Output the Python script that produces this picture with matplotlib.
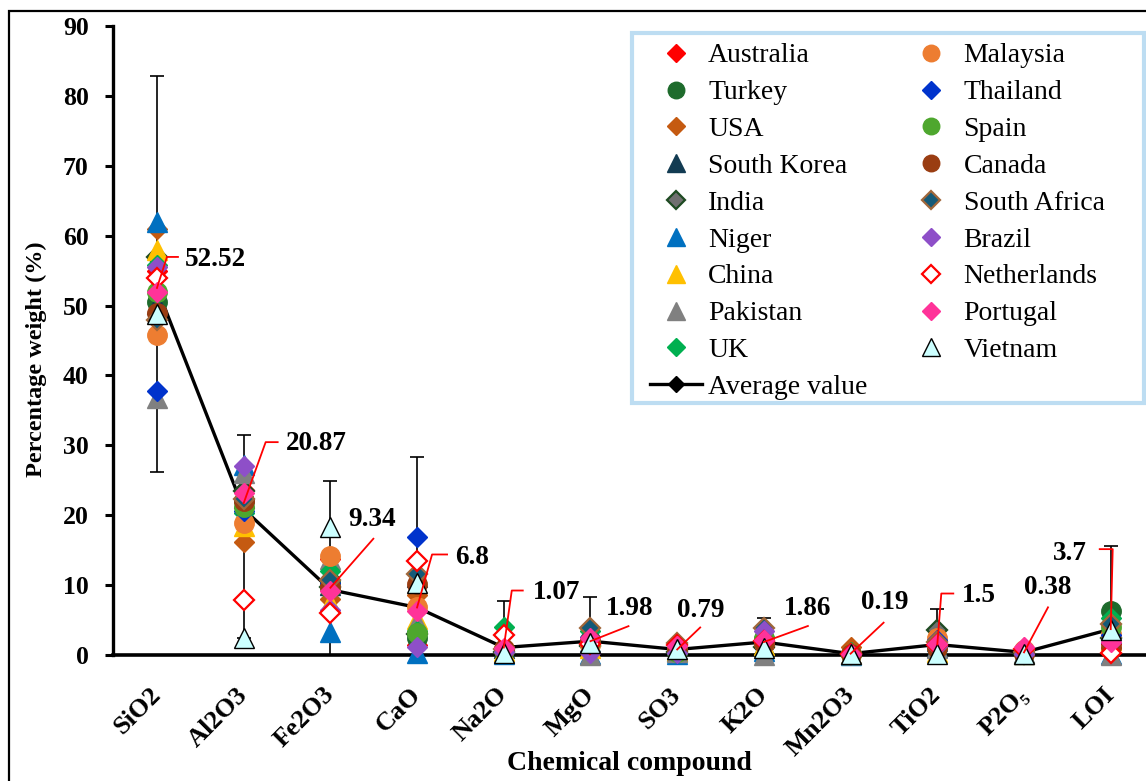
import numpy as np
import matplotlib
matplotlib.use("Agg")
import matplotlib.pyplot as plt
from matplotlib.lines import Line2D
from matplotlib.patches import Rectangle

plt.rcParams['font.family'] = ['Liberation Serif', 'DejaVu Serif']

compounds = ["SiO2", "Al2O3", "Fe2O3", "CaO", "Na2O", "MgO", "SO3", "K2O",
             "Mn2O3", "TiO2", "P2O\u2085", "LOI"]

# mean of all countries, with the spread drawn as error bars
average = [52.52, 20.87, 9.34, 6.8, 1.07, 1.98, 0.79, 1.86, 0.19, 1.5, 0.38, 3.7]
err_upper = [30.3, 10.6, 15.6, 21.5, 6.6, 6.3, 0.9, 3.4, 0.3, 5.1, 0.5, 11.9]
err_lower = [26.3, 18.4, 15.6, 21.5, 6.6, 6.3, 0.9, 3.4, 0.3, 5.1, 0.5, 11.9]

#           SiO2  Al2O3 Fe2O3 CaO   Na2O MgO  SO3  K2O  Mn2O3 TiO2 P2O5 LOI
australia = [55.0, 23.6, 13.7, 1.5, 0.9, 1.4, 1.4, 1.2, 0.1, 1.3, 1.0, 1.6]
turkey = [50.5, 22.0, 10.5, 2.4, 0.6, 2.1, 0.5, 1.6, 0.1, 1.0, 0.3, 6.3]
usa = [61.0, 16.1, 8.0, 8.6, 1.2, 2.5, 1.2, 2.2, 1.2, 0.9, 0.2, 1.0]
south_korea = [50.2, 22.5, 10.0, 11.2, 1.0, 1.8, 0.6, 1.4, 0.1, 1.2, 0.3, 3.2]
india = [57.0, 23.5, 9.8, 3.0, 0.5, 1.3, 0.4, 1.1, 0.1, 3.6, 0.2, 2.5]
niger = [62.0, 27.2, 3.3, 0.3, 0.2, 0.2, 0.1, 0.6, 0.0, 2.0, 0.1, 0.2]
china = [58.0, 18.5, 7.5, 5.2, 0.6, 1.0, 0.6, 1.5, 0.1, 0.4, 0.2, 2.1]
pakistan = [36.8, 26.0, 13.8, 4.7, 2.1, 0.0, 0.5, 0.0, 0.1, 1.0, 0.2, 0.0]
uk = [55.8, 20.3, 12.0, 3.5, 4.0, 3.5, 0.9, 2.6, 0.5, 1.3, 0.6, 5.3]
malaysia = [45.8, 18.9, 14.2, 6.8, 0.8, 1.5, 0.8, 1.7, 0.2, 2.4, 0.7, 3.0]
thailand = [37.8, 20.6, 10.3, 16.9, 1.0, 2.6, 0.3, 1.9, 0.1, 2.2, 0.2, 2.8]
spain = [52.0, 21.2, 9.6, 3.2, 0.7, 1.9, 0.5, 2.5, 0.1, 1.1, 0.3, 4.0]
canada = [49.0, 22.0, 9.8, 10.2, 0.9, 2.0, 0.9, 1.7, 0.1, 1.0, 0.2, 1.2]
south_africa = [48.0, 22.3, 10.8, 11.6, 0.8, 3.8, 1.7, 3.9, 0.1, 1.8, 0.4, 4.4]
brazil = [55.5, 27.0, 6.4, 1.1, 0.5, 0.3, 0.3, 3.4, 0.1, 1.3, 0.2, 1.8]
netherlands = [54.0, 7.8, 6.0, 13.4, 2.9, 1.6, 1.5, 2.0, 0.1, 1.4, 0.8, 0.3]
portugal = [52.0, 23.2, 9.1, 6.3, 1.0, 2.4, 1.3, 2.1, 0.2, 1.6, 1.2, 1.9]
vietnam = [48.8, 2.5, 18.3, 10.3, 0.3, 1.7, 0.8, 1.0, 0.2, 0.2, 0.2, 3.6]

countries = ["Australia", "Turkey", "USA", "South Korea", "India", "Niger", "China",
             "Pakistan", "UK", "Malaysia", "Thailand", "Spain", "Canada",
             "South Africa", "Brazil", "Netherlands", "Portugal", "Vietnam"]
values = [australia, turkey, usa, south_korea, india, niger, china, pakistan, uk,
          malaysia, thailand, spain, canada, south_africa, brazil, netherlands,
          portugal, vietnam]

# marker, face colour, edge colour
styles = [
    ("D", "#FF0000", "#FF0000"),
    ("o", "#1E6B2C", "#1E6B2C"),
    ("D", "#C55A11", "#C55A11"),
    ("^", "#123B52", "#123B52"),
    ("D", "#707070", "#1E4A22"),
    ("^", "#0070C0", "#0070C0"),
    ("^", "#FFC000", "#FFC000"),
    ("^", "#808080", "#808080"),
    ("D", "#00B050", "#00B050"),
    ("o", "#ED7D31", "#ED7D31"),
    ("D", "#0033CC", "#0033CC"),
    ("o", "#4EA72E", "#4EA72E"),
    ("o", "#9A3D12", "#9A3D12"),
    ("D", "#145A78", "#A0673A"),
    ("D", "#8E4FC8", "#8E4FC8"),
    ("D", "white", "#FF0000"),
    ("D", "#FF3399", "#FF3399"),
    ("^", "#CCFFFF", "#000000"),
]
sizes = {"D": 10.5, "o": 14.0, "^": 14.5}
outlined = ("white", "#707070", "#145A78")

fig = plt.figure(figsize=(11.46, 7.81), dpi=100)
ax = fig.add_axes([113 / 1146, 126 / 781, 1033 / 1146, 629 / 781])

x = np.arange(len(compounds))

ax.plot(x, average, color="black", lw=2.4, marker="D", ms=7, zorder=2)
ax.errorbar(x, average, yerr=[err_lower, err_upper], fmt="none", ecolor="black",
            elinewidth=1.2, capsize=5, capthick=1.2, zorder=2)

for i, (name, vals) in enumerate(zip(countries, values)):
    m, fc, ec = styles[i]
    ax.plot(x, vals, ls="none", marker=m, ms=sizes[m], mfc=fc, mec=ec,
            mew=1.6 if fc in outlined else 1.0, zorder=3 + i, clip_on=False)

ax.set_xlim(-0.507, 11.407)
ax.set_ylim(0, 90)
ax.set_yticks(np.arange(0, 91, 10))
ax.set_xticks(x)
ax.set_xticklabels(compounds, rotation=45, ha="right", va="center",
                   rotation_mode="anchor", fontsize=19, fontweight="bold")
ax.tick_params(axis="x", length=0, pad=26)
ax.tick_params(axis="y", direction="out", length=6, width=2.2, labelsize=18.5, pad=11.5)
for lab in ax.get_yticklabels():
    lab.set_fontweight("bold")

for s in ("top", "right"):
    ax.spines[s].set_visible(False)
ax.spines["left"].set_linewidth(2.4)
ax.spines["bottom"].set_linewidth(2.6)

ax.set_xlabel("Chemical compound", fontsize=20, fontweight="bold", labelpad=0)
ax.xaxis.set_label_coords(0.5, -0.153)
ax.set_ylabel("Percentage weight (%)", fontsize=17.5, fontweight="bold")
ax.yaxis.set_label_coords(-0.064, 0.47)

# data labels for the average, with red leader lines (offsets in pixels)
leaders = [
    [(0, 0), (10, 31), (21, 31)],
    [(0, 6), (22, 67), (34, 67)],
    [(0, 2), (43, 51)],
    [(0, 0), (15, 53), (30, 53)],
    [(0, 0), (8, 57), (19, 57)],
    [(0, 0), (38, 15)],
    [(0, 0), (23, 22)],
    [(0, 0), (44, 16)],
    [(0, 0), (33, 31)],
    [(0, 0), (4, 51), (16, 51)],
    [(0, 0), (24, 45)],
    [(0, 0), (2, 80), (-11, 80)],
]
text_pos = [(28, 28, "left"), (42, 66, "left"), (18, 70, "left"), (38, 50, "left"),
            (29, 55, "left"), (15, 33, "left"), (0, 39, "left"), (20, 34, "left"),
            (10, 51, "left"), (25, 49, "left"), (0, 65, "left"), (-24, 76, "right")]

fig.canvas.draw()
for i, v in enumerate(average):
    px, py = ax.transData.transform((x[i], v))
    pts = np.array([(px + dx, py + dy) for dx, dy in leaders[i]])
    fig.lines.append(Line2D(pts[:, 0], pts[:, 1], color="red", lw=1.3,
                            transform=None, figure=fig, zorder=30))
    tx, ty, ha = text_pos[i]
    fig.text((px + tx) / fig.bbox.width, (py + ty) / fig.bbox.height, f"{v:g}",
             ha=ha, va="center", fontsize=19.5, fontweight="bold", zorder=31)

# legend
handles = []
for i, name in enumerate(countries):
    m, fc, ec = styles[i]
    handles.append(Line2D([], [], ls="none", marker=m, ms=sizes[m] * 0.85, mfc=fc,
                          mec=ec, mew=1.6 if fc in outlined else 1.0))
avg_handle = Line2D([], [], color="black", lw=2.4, marker="D", ms=8)
order = list(range(9)) + [None] + list(range(9, 18))
leg_handles = [avg_handle if k is None else handles[k] for k in order]
leg_labels = ["Average value" if k is None else countries[k] for k in order]
leg = ax.legend(leg_handles, leg_labels, ncol=2, loc="upper left",
                bbox_to_anchor=(650 / 1146, 1 - 43 / 781), bbox_transform=fig.transFigure,
                fontsize=20, frameon=False, borderaxespad=0, borderpad=0,
                labelspacing=0.41, handlelength=1.87, handletextpad=0.22,
                columnspacing=1.37)
leg.set_zorder(40)

# legend box
fig.patches.append(Rectangle((632 / 1146, 1 - 403 / 781), 512 / 1146, 370 / 781,
                             transform=fig.transFigure, fc="none", ec="#BDDDF2", lw=3,
                             figure=fig, zorder=39))

# outer frame of the figure
fig.patches.append(Rectangle((9 / 1146, -0.1), 1.2, 1.1 - 11 / 781,
                             transform=fig.transFigure, fill=False, ec="black", lw=1.6,
                             figure=fig))

fig.savefig("out.png", dpi=100)
